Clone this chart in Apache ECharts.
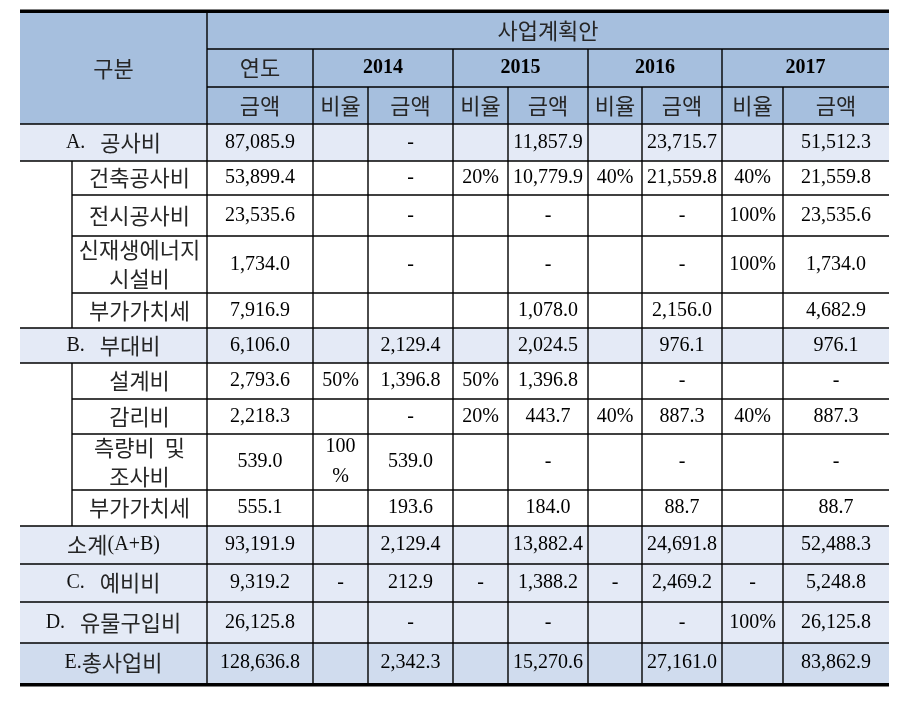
<!DOCTYPE html>
<html>
<head>
<meta charset="utf-8">
<script src="https://cdn.jsdelivr.net/npm/echarts@6/dist/echarts.min.js"></script>
<style>
  html, body { margin: 0; padding: 0; background: #fff; }
  #chart { width: 902px; height: 706px; }
</style>
</head>
<body>
<div id="chart"></div>
<script>
// row labels of the 구분 column, level 1 = indented sub item
const rowLabels = [
  'A.   공사비', '건축공사비', '전시공사비', '신재생에너지\n시설비', '부가가치세',
  'B.   부대비', '설계비', '감리비', '측량비  및\n조사비', '부가가치세',
  '소계(A+B)', 'C.   예비비', 'D.   유물구입비', 'E.총사업비'
]
const rowLevels = [0, 1, 1, 1, 1, 0, 1, 1, 1, 1, 0, 0, 0, 0]
const years = ['2014', '2015', '2016', '2017']

// 연도 금액 (total)
const amountTotal = [87085.9, 53899.4, 23535.6, 1734.0, 7916.9, 6106.0, 2793.6, 2218.3, 539.0, 555.1, 93191.9, 9319.2, 26125.8, 128636.8]

// null = empty cell, '-' = dash
const ratio2014 = [null, null, null, null, null, null, 0.5, null, 1, null, null, '-', null, null]
const amount2014 = ['-', '-', '-', '-', null, 2129.4, 1396.8, '-', 539.0, 193.6, 2129.4, 212.9, '-', 2342.3]
const ratio2015 = [null, 0.2, null, null, null, null, 0.5, 0.2, null, null, null, '-', null, null]
const amount2015 = [11857.9, 10779.9, '-', '-', 1078.0, 2024.5, 1396.8, 443.7, '-', 184.0, 13882.4, 1388.2, '-', 15270.6]
const ratio2016 = [null, 0.4, null, null, null, null, null, 0.4, null, null, null, '-', null, null]
const amount2016 = [23715.7, 21559.8, '-', '-', 2156.0, 976.1, '-', 887.3, '-', 88.7, 24691.8, 2469.2, '-', 27161.0]
const ratio2017 = [null, 0.4, 1, 1, null, null, null, 0.4, null, null, null, '-', 1, null]
const amount2017 = [51512.3, 21559.8, 23535.6, 1734.0, 4682.9, 976.1, '-', 887.3, '-', 88.7, 52488.3, 5248.8, 26125.8, 83862.9]

const yearRatios = [ratio2014, ratio2015, ratio2016, ratio2017]
const yearAmounts = [amount2014, amount2015, amount2016, amount2017]

// layout (page pixels)
const colEdges = [20, 72, 207, 313, 368, 453, 508, 588, 642, 722, 783, 889]
const rowEdges = [13, 49, 87, 124, 161, 195, 236, 293, 328, 363, 399, 434, 490, 526, 564, 602, 643, 683]
const fills = { head: '#a6bfde', band: '#e4eaf6', total: '#d0dcee', plain: '#ffffff' }

const fmtAmount = v => {
  if (v === null) return ''
  if (typeof v === 'string') return v
  return v.toLocaleString('en-US', { minimumFractionDigits: 1, maximumFractionDigits: 1 })
}
const fmtRatio = v => {
  if (v === null) return ''
  if (typeof v === 'string') return v
  return Math.round(v * 100) + '%'
}

// split mixed text into hangul / latin runs for rich text
const toRich = s => s.split('\n').map(line =>
  line.replace(/([\uac00-\ud7a3]+)|([^\uac00-\ud7a3]+)/g, (m, h) => h ? '{h|' + m + '}' : '{l|' + m + '}')
).join('\n')

const cells = []
function addCell(c0, c1, r0, r1, text, kind, fill) {
  cells.push({ c0, c1, r0, r1, text, kind, fill })
}

// header
addCell(0, 2, 0, 3, '구분', 'head', fills.head)
addCell(2, 11, 0, 1, '사업계획안', 'head', fills.head)
addCell(2, 3, 1, 2, '연도', 'head', fills.head)
years.forEach((y, k) => addCell(3 + 2 * k, 5 + 2 * k, 1, 2, y, 'year', fills.head))
addCell(2, 3, 2, 3, '금액', 'head', fills.head)
years.forEach((y, k) => {
  addCell(3 + 2 * k, 4 + 2 * k, 2, 3, '비율', 'head', fills.head)
  addCell(4 + 2 * k, 5 + 2 * k, 2, 3, '금액', 'head', fills.head)
})

// body
rowLabels.forEach((label, i) => {
  const r = 3 + i
  const fill = i === rowLabels.length - 1 ? fills.total : (rowLevels[i] === 0 ? fills.band : fills.plain)
  if (rowLevels[i] === 0) {
    addCell(0, 2, r, r + 1, label, 'label', fill)
  } else {
    if (i === 0 || rowLevels[i - 1] === 0) {
      let j = i
      while (j < rowLevels.length && rowLevels[j] === 1) j++
      addCell(0, 1, r, 3 + j, '', 'label', fills.plain)
    }
    addCell(1, 2, r, r + 1, label, 'label', fill)
  }
  addCell(2, 3, r, r + 1, fmtAmount(amountTotal[i]), 'num', fill)
  yearRatios.forEach((arr, k) => {
    addCell(3 + 2 * k, 4 + 2 * k, r, r + 1, fmtRatio(arr[i]), 'ratio', fill)
    addCell(4 + 2 * k, 5 + 2 * k, r, r + 1, fmtAmount(yearAmounts[k][i]), 'num', fill)
  })
})

const lastCol = colEdges.length - 1
const lastRow = rowEdges.length - 1
const serif = '"Liberation Serif", "Times New Roman", serif'
const hangul = '"Noto Sans CJK KR", sans-serif'

function renderItem(params, api) {
  const cell = cells[params.dataIndex]
  const p0 = api.coord([api.value(0), api.value(2)])
  const p1 = api.coord([api.value(1), api.value(3)])
  const x0 = p0[0], y0 = p0[1], x1 = p1[0], y1 = p1[1]
  const children = [{
    type: 'rect',
    shape: { x: x0, y: y0, width: x1 - x0, height: y1 - y0 },
    style: { fill: cell.fill },
    z2: 0
  }]
  const thin = { stroke: '#000', lineWidth: 1.4 }
  if (cell.c1 < lastCol) {
    children.push({ type: 'line', shape: { x1: x1, y1: y0, x2: x1, y2: y1 }, style: thin, z2: 10 })
  }
  if (cell.r1 < lastRow) {
    children.push({ type: 'line', shape: { x1: x0, y1: y1, x2: x1, y2: y1 }, style: thin, z2: 10 })
  } else {
    children.push({ type: 'line', shape: { x1: x0, y1: y1 + 1.7, x2: x1, y2: y1 + 1.7 }, style: { stroke: '#000', lineWidth: 3.4 }, z2: 11 })
  }
  if (cell.r0 === 0) {
    children.push({ type: 'line', shape: { x1: x0, y1: y0 - 1.7, x2: x1, y2: y0 - 1.7 }, style: { stroke: '#000', lineWidth: 3.4 }, z2: 11 })
  }
  if (cell.text) {
    const isNum = cell.kind === 'num' || cell.kind === 'ratio' || cell.kind === 'year'
    const style = {
      x: (x0 + x1) / 2,
      y: (y0 + y1) / 2,
      align: 'center',
      verticalAlign: 'middle'
    }
    if (isNum) {
      Object.assign(style, {
        text: cell.text,
        fontSize: 20,
        fontFamily: serif,
        fontWeight: cell.kind === 'year' ? 'bold' : 'normal',
        fill: '#000',
        lineHeight: 30
      })
      if (cell.kind === 'ratio') {
        style.width = x1 - x0 - 12
        style.overflow = 'break'
      }
    } else {
      Object.assign(style, {
        text: toRich(cell.text),
        rich: {
          h: { fontSize: 22, fontFamily: hangul, fill: '#262626', lineHeight: 29 },
          l: { fontSize: 20, fontFamily: serif, fill: '#111', lineHeight: 29 }
        }
      })
    }
    children.push({ type: 'text', style: style, z2: 5 })
  }
  return { type: 'group', children: children }
}

const chart = echarts.init(document.getElementById('chart'))
chart.setOption({
  animation: false,
  backgroundColor: '#fff',
  grid: { left: 0, right: 0, top: 0, bottom: 0 },
  xAxis: { type: 'value', min: 0, max: 902, show: false },
  yAxis: { type: 'value', min: 0, max: 706, inverse: true, show: false },
  series: [{
    type: 'custom',
    renderItem: renderItem,
    clip: false,
    data: cells.map(c => [colEdges[c.c0], colEdges[c.c1], rowEdges[c.r0], rowEdges[c.r1]])
  }]
})
</script>
</body>
</html>
